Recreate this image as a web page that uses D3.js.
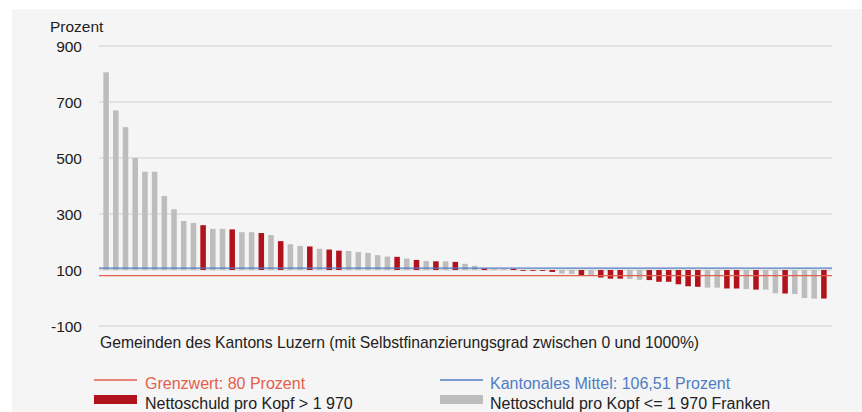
<!DOCTYPE html>
<html>
<head>
<meta charset="utf-8">
<script src="https://cdn.jsdelivr.net/npm/d3@7/dist/d3.min.js"></script>
<style>
  html, body { margin: 0; padding: 0; background: #ffffff; }
  svg { display: block; }
  text { font-family: "Liberation Sans", Arial, sans-serif; }
</style>
</head>
<body>
<script>
// ---- DATA ----
const values = [806, 670, 610, 500, 451, 451, 364, 317, 275, 268,
                260, 247, 247, 245, 235, 235, 232, 225, 203, 192,
                186, 184, 176, 173, 169, 168, 164, 161, 153, 148,
                147, 141, 136, 132, 131, 131, 129, 122, 115, 105,
                104, 103, 104, 98, 98, 97, 93, 87, 86, 82,
                79, 73, 69, 69, 68, 65, 64, 58, 58, 49,
                42, 40, 37, 37, 34, 34, 32, 30, 30, 17,
                16, 14, 0, -2, -2];
// 1 = Nettoschuld pro Kopf > 1 970, 0 = <= 1 970 Franken
const highDebt = [0, 0, 0, 0, 0, 0, 0, 0, 0, 0,
                  1, 0, 0, 1, 0, 0, 1, 0, 1, 0,
                  0, 1, 0, 1, 1, 0, 0, 0, 0, 0,
                  1, 0, 1, 0, 1, 0, 1, 0, 0, 1,
                  0, 0, 1, 1, 1, 1, 1, 0, 0, 1,
                  0, 1, 1, 1, 0, 0, 1, 1, 1, 1,
                  1, 1, 0, 0, 1, 1, 0, 1, 0, 0,
                  1, 0, 0, 0, 1];
const yTicks = [-100, 100, 300, 500, 700, 900];
const yTickLabels = ["-100", "100", "300", "500", "700", "900"];
const baseline = 100;
const grenzwert = 80;
const kantonMittel = 106.51;
const labels = {
  yTitle: "Prozent",
  xTitle: "Gemeinden des Kantons Luzern (mit Selbstfinanzierungsgrad zwischen 0 und 1000%)",
  grenz: "Grenzwert: 80 Prozent",
  mittel: "Kantonales Mittel: 106,51 Prozent",
  high: "Nettoschuld pro Kopf > 1 970",
  low: "Nettoschuld pro Kopf <= 1 970 Franken"
};

// ---- STYLE ----
const W = 862, H = 412;
const colRed = "#b2121b", colGrey = "#bdbdbd";
const colLimit = "#e2604c", colMean = "#4f7dc3";

const svg = d3.select("body").append("svg").attr("width", W).attr("height", H);

// panel background
svg.append("rect").attr("x", 12).attr("y", 9).attr("width", W - 12).attr("height", H - 9).attr("fill", "#f5f5f5");

const y = d3.scaleLinear().domain([-100, 900]).range([326, 46]);
const x = d3.scaleBand().domain(d3.range(values.length)).range([101.4, 828.6]).paddingInner(0.43).paddingOuter(0.2);

const gx0 = 99, gx1 = 832;

// grid lines
svg.append("g").selectAll("line").data(yTicks).join("line")
  .attr("x1", gx0).attr("x2", gx1)
  .attr("y1", d => y(d)).attr("y2", d => y(d))
  .attr("stroke", "#e2e2e2").attr("stroke-width", 2);

// y axis labels
const yAxis = d3.axisLeft(y).tickValues(yTicks)
  .tickFormat((d, i) => yTickLabels[i]).tickSize(0).tickPadding(0);
const ga = svg.append("g").attr("transform", "translate(82,0)").call(yAxis);
ga.select(".domain").remove();
ga.selectAll("text")
  .attr("font-family", "'DejaVu Sans', sans-serif")
  .attr("font-size", 15.5).attr("fill", "#1a1a1a").attr("dy", "0.36em");

svg.append("text").attr("x", 50).attr("y", 32).attr("font-size", 15.5).attr("fill", "#222").text(labels.yTitle);

// bars
svg.append("g").selectAll("rect").data(values).join("rect")
  .attr("x", (d, i) => x(i))
  .attr("width", x.bandwidth())
  .attr("y", d => Math.min(y(d), y(baseline)))
  .attr("height", d => Math.max(0.8, Math.abs(y(d) - y(baseline))))
  .attr("fill", (d, i) => highDebt[i] ? colRed : colGrey);

// reference lines
svg.append("line").attr("x1", gx0).attr("x2", gx1).attr("y1", y(kantonMittel)).attr("y2", y(kantonMittel))
  .attr("stroke", colMean).attr("stroke-width", 1.3);
svg.append("line").attr("x1", gx0).attr("x2", gx1).attr("y1", y(grenzwert)).attr("y2", y(grenzwert))
  .attr("stroke", colLimit).attr("stroke-width", 1.3);

// x title
svg.append("text").attr("x", 100).attr("y", 348).attr("font-size", 15.7).attr("fill", "#222").text(labels.xTitle);

// legend
const lg = svg.append("g");
lg.append("line").attr("x1", 94).attr("x2", 137).attr("y1", 380).attr("y2", 380).attr("stroke", colLimit).attr("stroke-width", 1.3);
lg.append("text").attr("x", 145).attr("y", 389).attr("font-size", 16).attr("fill", colLimit).text(labels.grenz);
lg.append("rect").attr("x", 94).attr("y", 395).attr("width", 43).attr("height", 9).attr("fill", colRed);
lg.append("text").attr("x", 145).attr("y", 409).attr("font-size", 16).attr("fill", "#222").text(labels.high);

lg.append("line").attr("x1", 440).attr("x2", 483).attr("y1", 380).attr("y2", 380).attr("stroke", colMean).attr("stroke-width", 1.3);
lg.append("text").attr("x", 490).attr("y", 389).attr("font-size", 16).attr("fill", colMean).text(labels.mittel);
lg.append("rect").attr("x", 440).attr("y", 395).attr("width", 43).attr("height", 9).attr("fill", colGrey);
lg.append("text").attr("x", 490).attr("y", 409).attr("font-size", 16).attr("fill", "#222").text(labels.low);
</script>
</body>
</html>
